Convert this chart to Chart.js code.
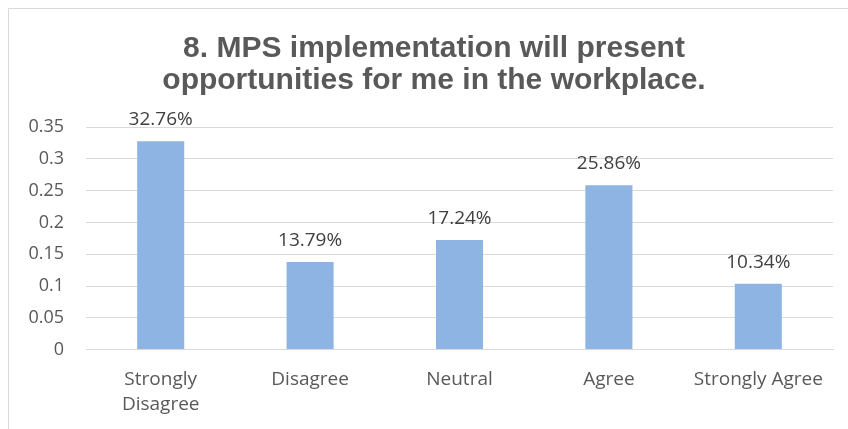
<!DOCTYPE html>
<html>
<head>
<meta charset="utf-8">
<script src="https://cdn.jsdelivr.net/npm/chart.js@4/dist/chart.umd.min.js"></script>
<style>
  html, body { margin: 0; padding: 0; background: #fff; }
  #wrap { width: 848px; height: 429px; position: relative; }
</style>
</head>
<body>
<div id="wrap"><canvas id="grafica" width="848" height="429"></canvas></div>
<script>
const categorias = [["Strongly", "Disagree"], "Disagree", "Neutral", "Agree", "Strongly Agree"];
const valores = [0.3276, 0.1379, 0.1724, 0.2586, 0.1034];
const etiquetas = ["32.76%", "13.79%", "17.24%", "25.86%", "10.34%"];
const titulo = ["8. MPS implementation will present", "opportunities for me in the workplace."];

// marco del grafico (borde gris arriba e izquierda)
const marco = {
  id: 'marco',
  beforeDraw(chart) {
    const ctx = chart.ctx;
    ctx.save();
    ctx.strokeStyle = '#d9d9d9';
    ctx.lineWidth = 1;
    ctx.beginPath();
    ctx.moveTo(8.5, chart.height);
    ctx.lineTo(8.5, 8.5);
    ctx.lineTo(chart.width, 8.5);
    ctx.stroke();
    ctx.restore();
  }
};

// titulo en dos lineas, centrado como en el original
const tituloPlugin = {
  id: 'tituloPlugin',
  afterDraw(chart) {
    const ctx = chart.ctx;
    ctx.save();
    ctx.font = 'bold 30px "Liberation Sans", Arial, sans-serif';
    ctx.fillStyle = '#595959';
    ctx.textAlign = 'center';
    ctx.textBaseline = 'alphabetic';
    ctx.fillText(titulo[0], 434, 57);
    ctx.fillText(titulo[1], 434, 89);
    ctx.restore();
  }
};

// etiquetas de porcentaje encima de las barras
const valoresBarra = {
  id: 'valoresBarra',
  afterDatasetsDraw(chart) {
    const ctx = chart.ctx;
    const meta = chart.getDatasetMeta(0);
    ctx.save();
    ctx.font = '19px "Open Sans", sans-serif';
    ctx.fillStyle = '#404040';
    ctx.textAlign = 'center';
    ctx.textBaseline = 'alphabetic';
    meta.data.forEach((bar, i) => {
      ctx.fillText(etiquetas[i], bar.x, bar.y - 16);
    });
    ctx.restore();
  }
};

var context = document.getElementById('grafica').getContext('2d');
var config = {
  type: 'bar',
  data: {
    labels: categorias,
    datasets: [{
      data: valores,
      backgroundColor: '#8eb4e3',
      barPercentage: 0.315,
      categoryPercentage: 1
    }]
  },
  options: {
    responsive: false,
    animation: false,
    layout: { padding: { left: 8, right: 15, top: 127, bottom: 2 } },
    plugins: {
      legend: { display: false },
      tooltip: { enabled: false },
      title: { display: false }
    },
    scales: {
      x: {
        grid: { display: false },
        border: { color: '#d9d9d9' },
        ticks: {
          color: '#595959',
          font: { family: '"Open Sans", sans-serif', size: 19, lineHeight: 1.3 },
          padding: 10,
          maxRotation: 0,
          autoSkip: false
        }
      },
      y: {
        min: 0,
        max: 0.35,
        afterFit(scale) { scale.width = 78; },
        grid: { color: '#d9d9d9', drawTicks: false },
        border: { display: false },
        ticks: {
          stepSize: 0.05,
          color: '#595959',
          padding: 22,
          font: { family: '"Open Sans", sans-serif', size: 18 },
          callback: v => String(Math.round(v * 100) / 100)
        }
      }
    }
  },
  plugins: [marco, tituloPlugin, valoresBarra]
};
window.myChart = new Chart(context, config);
</script>
</body>
</html>
